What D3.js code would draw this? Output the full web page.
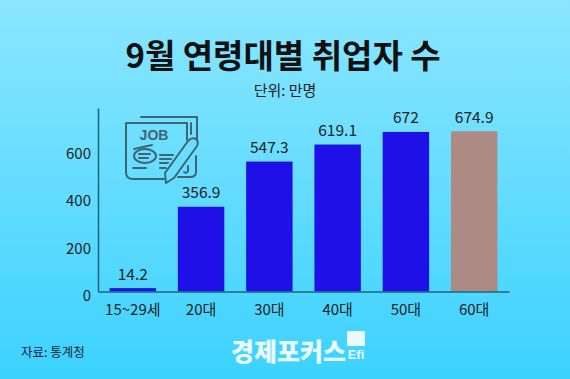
<!DOCTYPE html>
<html>
<head>
<meta charset="utf-8">
<script src="https://cdn.jsdelivr.net/npm/d3@7"></script>
<style>
  html, body { margin: 0; padding: 0; }
  text { font-family: "Noto Sans CJK KR", "Noto Sans", sans-serif; }
</style>
</head>
<body>
<div id="chart"></div>
<script>
const categories = ["15~29세", "20대", "30대", "40대", "50대", "60대"];
const values = [14.2, 356.9, 547.3, 619.1, 672, 674.9];
const tickValues = [0, 200, 400, 600];

const width = 570, height = 379;
const margin = {top: 108, right: 61, bottom: 87.5, left: 98};

const svg = d3.select("#chart").append("svg")
  .attr("width", width)
  .attr("height", height)
  .style("display", "block");

// BACKGROUND ==========
const grad = svg.append("defs").append("linearGradient")
  .attr("id", "bg").attr("x1", 0).attr("y1", 0).attr("x2", 0).attr("y2", 1);
grad.append("stop").attr("offset", "0%").attr("stop-color", "#8be6ff");
grad.append("stop").attr("offset", "100%").attr("stop-color", "#3cd2ff");

svg.append("rect").attr("width", width).attr("height", height).attr("fill", "url(#bg)");

// TITLES ==========
svg.append("text")
  .attr("x", 283).attr("y", 68)
  .attr("text-anchor", "middle")
  .attr("font-size", 33).attr("font-weight", 700)
  .attr("fill", "#111")
  .text("9월 연령대별 취업자 수");

svg.append("text")
  .attr("x", 285).attr("y", 96)
  .attr("text-anchor", "middle")
  .attr("font-size", 15)
  .attr("fill", "#222")
  .text("단위: 만명");

// SCALES ==========
const x = d3.scaleBand()
  .domain(categories)
  .range([margin.left, width - margin.right])
  .paddingInner(0.32).paddingOuter(0.17);

const y = d3.scaleLinear()
  .domain([0, 773])
  .range([height - margin.bottom, margin.top]);

// BARS ==========
svg.selectAll("rect.bar")
  .data(values)
  .join("rect")
  .attr("class", "bar")
  .attr("x", (_, i) => x(categories[i]))
  .attr("y", d => y(d))
  .attr("width", x.bandwidth())
  .attr("height", d => y(0) - y(d))
  .attr("fill", (_, i) => i === 5 ? "#ae8a85" : "#1f10e8");

svg.selectAll("text.value")
  .data(values)
  .join("text")
  .attr("class", "value")
  .attr("x", (_, i) => x(categories[i]) + x.bandwidth() / 2)
  .attr("y", d => y(d) - 8.5)
  .attr("text-anchor", "middle")
  .attr("font-size", 15.5)
  .attr("fill", "#222")
  .text(d => d);

// AXES ==========
const xAxis = svg.append("g")
  .attr("transform", `translate(0,${y(0)})`)
  .call(d3.axisBottom(x).tickSize(0).tickPadding(12.5));
const yAxis = svg.append("g")
  .attr("transform", `translate(${margin.left},0)`)
  .call(d3.axisLeft(y).tickValues(tickValues).tickSize(0).tickPadding(7));

xAxis.select(".domain").attr("stroke", "#1b6478").attr("stroke-width", 1.5);
yAxis.select(".domain").attr("stroke", "#1b6478").attr("stroke-width", 1.5);
xAxis.selectAll("text").attr("font-size", 15).attr("fill", "#222")
  .style("font-family", '"Noto Sans CJK KR", sans-serif');
yAxis.selectAll("text").attr("font-size", 15).attr("fill", "#222").attr("dy", "0.6em")
  .style("font-family", '"Noto Sans CJK KR", sans-serif');

// JOB ICON ==========
const iconColor = "#3d6675";
const icon = svg.append("g")
  .attr("fill", "none").attr("stroke", iconColor).attr("stroke-width", 2)
  .attr("stroke-linecap", "round").attr("stroke-linejoin", "round");

icon.append("path").attr("d", "M141 117H197V140");
icon.append("path").attr("d", "M187 123H126V172Q126 179 133 179H164");
icon.append("path").attr("d", "M187 123V140M191 123V134");
icon.append("path").attr("d", "M133 168H146M160 155H173M160 159H171M160 163H168M160 168H166");
icon.append("path").attr("d", "M166 183L165 173L188 141Q192 137 196 139Q199 142 197 146L174 178Z");
icon.append("path").attr("d", "M196 156V172Q196 177 190 177H178");
icon.append("path").attr("d", "M188 166V171Q187 174 184 172");
icon.append("ellipse").attr("cx", 145).attr("cy", 156).attr("rx", 11).attr("ry", 7);
icon.append("path").attr("d", "M139 154H150M139 158H148M134 149L152 145");
icon.append("text")
  .attr("x", 154).attr("y", 140)
  .attr("text-anchor", "middle")
  .attr("font-size", 14).attr("font-weight", 700)
  .attr("fill", iconColor).attr("stroke", "none")
  .style("font-family", '"Liberation Sans", sans-serif')
  .text("JOB");

// FOOTER ==========
svg.append("text")
  .attr("x", 21).attr("y", 357)
  .attr("font-size", 12.5)
  .attr("fill", "#223")
  .text("자료: 통계청");

svg.append("text")
  .attr("x", 231).attr("y", 361)
  .attr("font-size", 25).attr("font-weight", 900)
  .attr("fill", "#eafaff")
  .text("경제포커스");

svg.append("rect")
  .attr("x", 347).attr("y", 331).attr("width", 18).attr("height", 15)
  .attr("fill", "#eafaff");
svg.append("text")
  .attr("x", 356).attr("y", 359)
  .attr("text-anchor", "middle")
  .attr("font-size", 13).attr("font-weight", 700)
  .attr("fill", "#eafaff")
  .style("font-family", '"Liberation Sans", sans-serif')
  .text("Efi");
</script>
</body>
</html>
